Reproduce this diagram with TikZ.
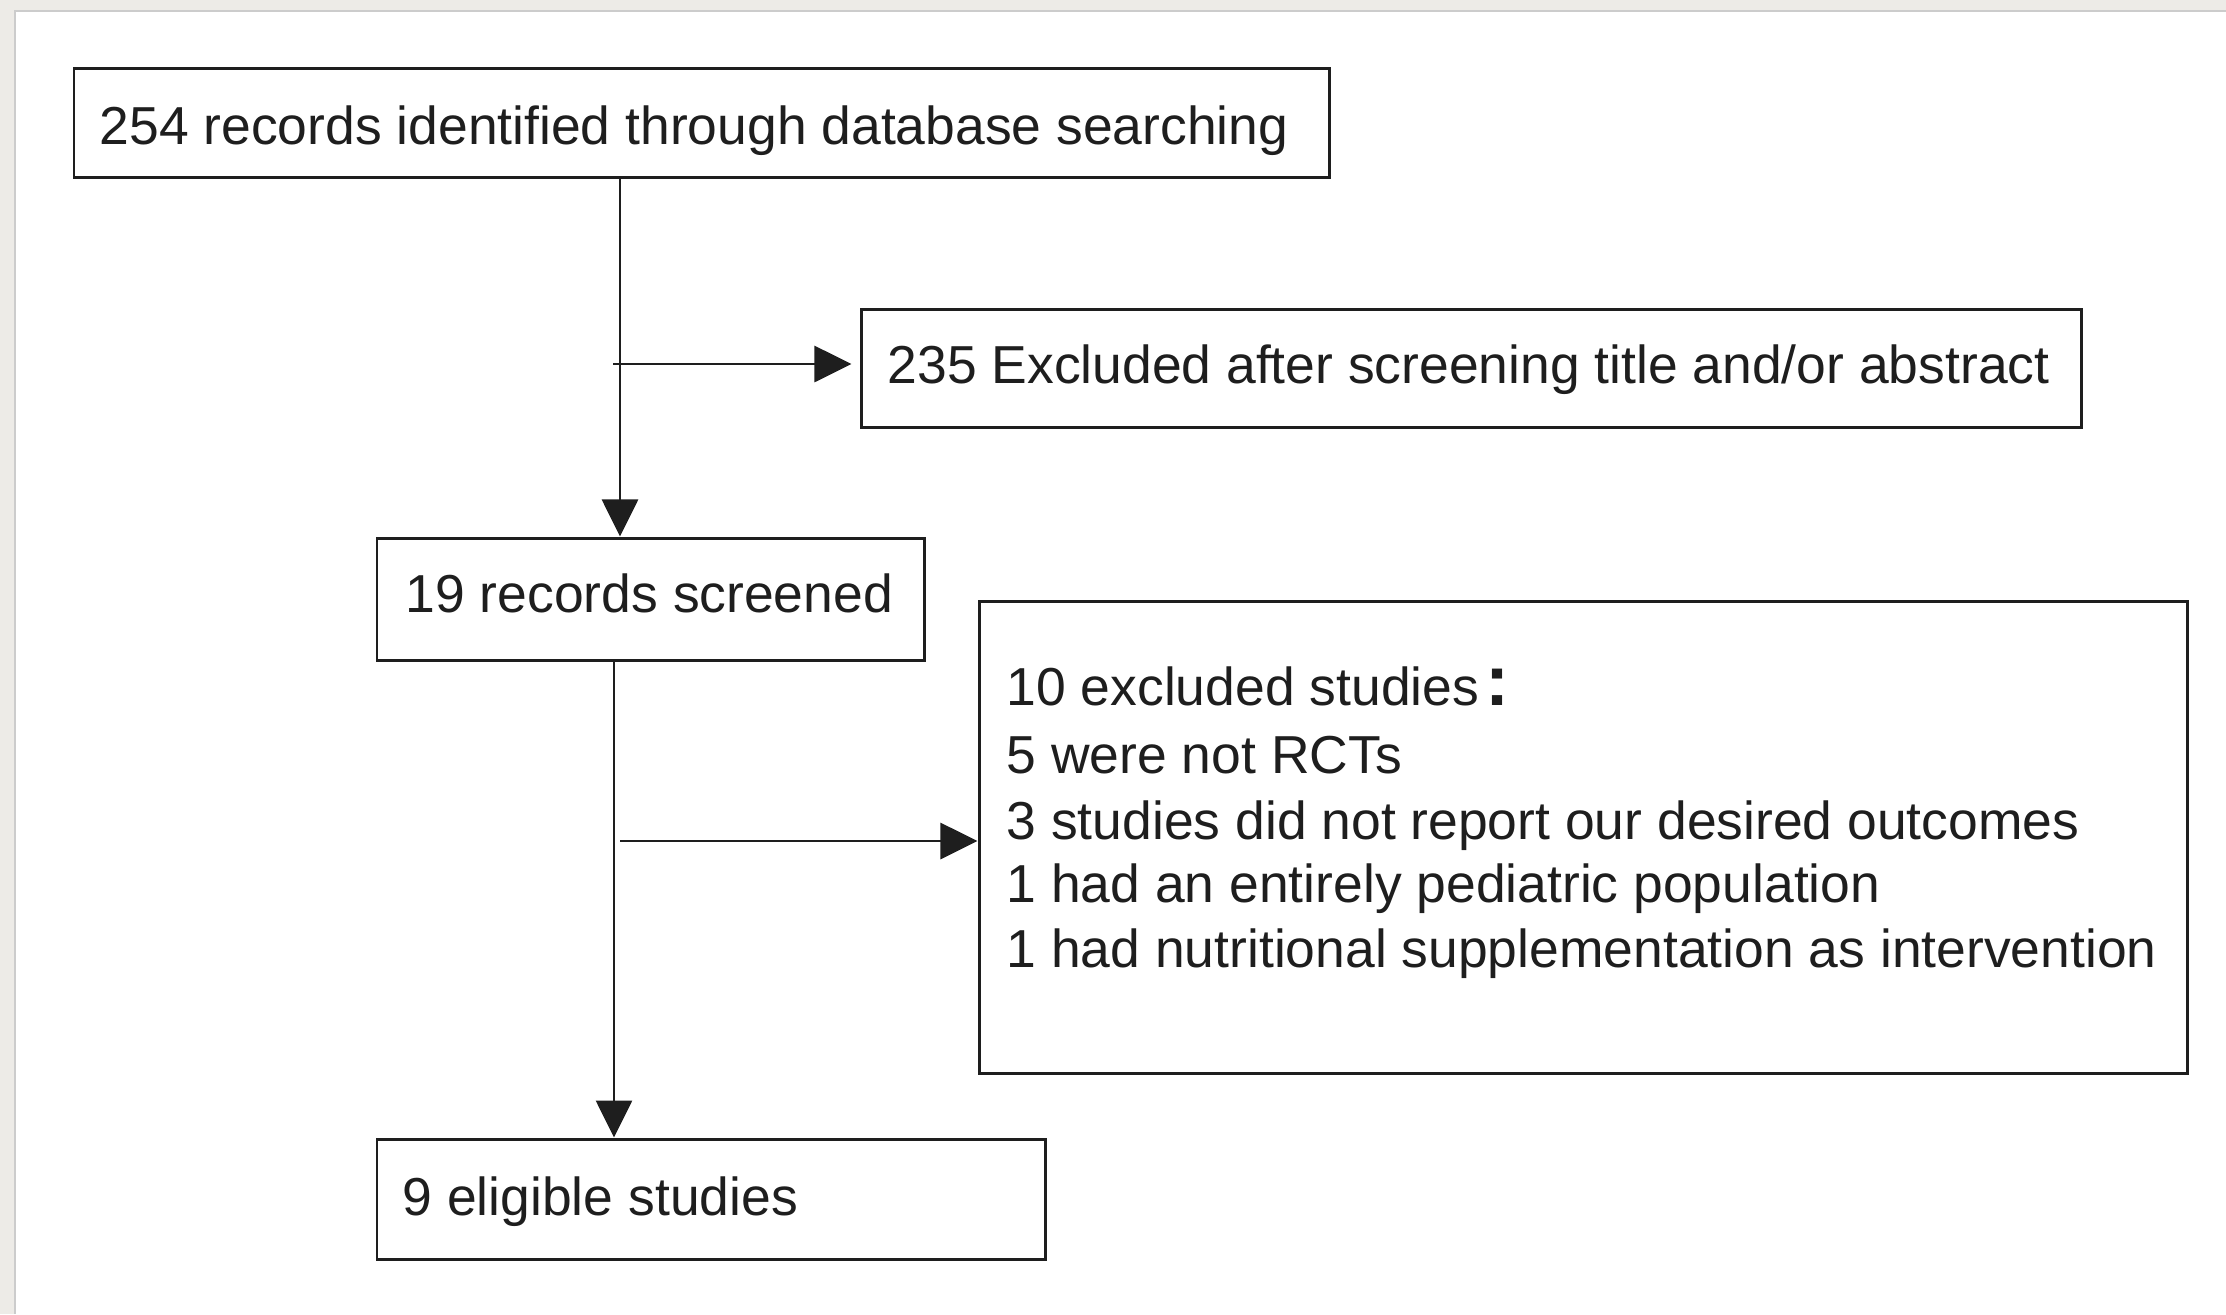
\documentclass[tikz,border=0pt]{standalone}
\usepackage{fontspec}
\setmainfont{Liberation Sans}
\usetikzlibrary{arrows.meta,fit}
\definecolor{ink}{HTML}{1E1E1E}
\definecolor{framebg}{HTML}{EDEBE7}
\begin{document}
\begin{tikzpicture}[x=0.01cm,y=-0.01cm,
  box/.style={draw=ink, line width=0.85pt, inner sep=0pt},
  txt/.style={font=\fontsize{15.2pt}{18pt}\selectfont, text=ink, inner sep=0pt, anchor=base west},
  arr/.style={draw=ink, line width=0.78pt, -{Triangle[length=0.37cm,width=0.36cm]}}]
\useasboundingbox (0,0) rectangle (2226,1314);
% page background and frame
\fill[framebg] (0,0) rectangle (2226,1314);
\fill[white] (15,11) rectangle (2226,1314);
\draw[gray!40, line width=0.6pt] (15,1314) -- (15,11) -- (2226,11);
% boxes
\node[box, fit={(74,68) (1329,177)}] (b1) {};
\node[box, fit={(861,309) (2081,427)}] (b2) {};
\node[box, fit={(377,538) (924,660)}] (b3) {};
\node[box, fit={(979,601) (2187,1073)}] (b4) {};
\node[box, fit={(377,1139) (1045,1259)}] (b5) {};
% texts
\node[txt] (t1) at (99,144) {254 records identified through database searching};
\node[txt] (t2) at (887,383) {235 Excluded after screening title and/or abstract};
\node[txt] (t3) at (405,612) {19 records screened};
\node[txt] (l1) at (1006,705) {10 excluded studies\hspace{0.06cm}{\fontsize{20.5pt}{20pt}\selectfont\bfseries :}};
\node[txt] (l2) at (1006,773) {5 were not RCTs};
\node[txt] (l3) at (1006,839) {3 studies did not report our desired outcomes};
\node[txt] (l4) at (1006,902) {1 had an entirely pediatric population};
\node[txt] (l5) at (1006,967) {1 had nutritional supplementation as intervention};
\node[txt] (t5) at (402,1215) {9 eligible studies};
% connectors
\coordinate (c1) at (620,0);
\coordinate (c2) at (614,0);
\coordinate (j1) at (613,364);
\coordinate (j2) at (620,841);
\draw[arr] (b1.south -| c1) -- (b3.north -| c1);
\draw[arr, shorten >=0.08cm] (j1) -- (b2.west |- j1);
\draw[arr] (b3.south -| c2) -- (b5.north -| c2);
\draw[arr] (j2) -- (b4.west |- j2);
\end{tikzpicture}
\end{document}
